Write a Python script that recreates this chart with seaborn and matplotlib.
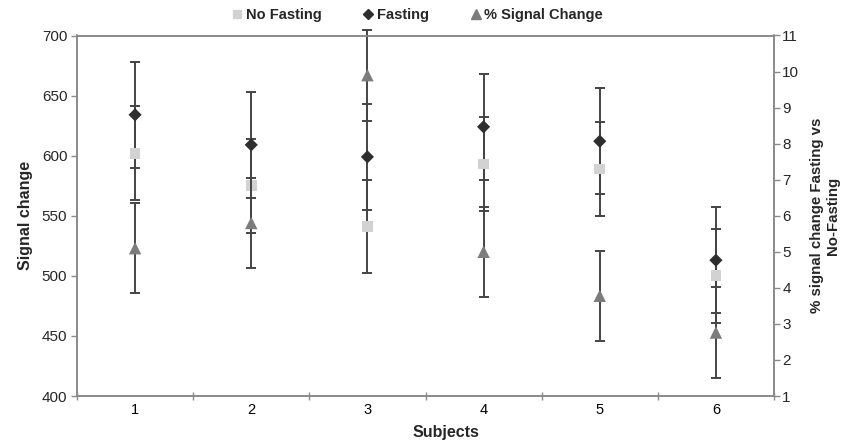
import matplotlib
matplotlib.use("Agg")
import matplotlib.pyplot as plt
import seaborn as sns
import numpy as np
import pandas as pd
from matplotlib.ticker import FixedLocator, NullFormatter
from matplotlib.lines import Line2D

subjects = [1, 2, 3, 4, 5, 6]
subject_labels = ["1", "2", "3", "4", "5", "6"]
no_fasting = [602, 575, 541, 593, 589, 500]
no_fasting_err = [39, 39, 39, 39, 39, 39]
fasting = [634, 609, 599, 624, 612, 513]
fasting_err = [44, 44, 44, 44, 44, 44]
pct_change = [5.1, 5.8, 9.9, 5.0, 3.78, 2.76]
pct_change_err = [1.25, 1.25, 1.26, 1.25, 1.25, 1.25]

sns.set_theme(style="white")
plt.rcParams['font.family'] = ['Liberation Sans', 'DejaVu Sans']

fig = plt.figure(figsize=(8.55, 4.41), dpi=100)
ax = fig.add_axes([77/855, 1-396/441, (774-77)/855, (396-35.5)/441])
ax2 = ax.twinx()

c_nf = "#d2d2d2"
c_f = "#2e2e2e"
c_p = "#7c7c7c"
c_err = "#444444"
c_spine = "#8a8a8a"

df = pd.DataFrame({"subject": subjects, "no_fasting": no_fasting, "fasting": fasting,
                   "pct": pct_change})

ax.errorbar(subjects, fasting, yerr=fasting_err, fmt="none", ecolor=c_err,
            elinewidth=1.4, capsize=3.5, capthick=1.4, zorder=2)
ax.errorbar(subjects, no_fasting, yerr=no_fasting_err, fmt="none", ecolor=c_err,
            elinewidth=1.4, capsize=3.5, capthick=1.4, zorder=2)
sns.scatterplot(data=df, x="subject", y="no_fasting", marker="s", s=60, color=c_nf,
                edgecolor="none", ax=ax, zorder=3, legend=False)
sns.scatterplot(data=df, x="subject", y="fasting", marker="D", s=45, color=c_f,
                edgecolor="none", ax=ax, zorder=4, legend=False)

eb = ax2.errorbar(subjects, pct_change, yerr=pct_change_err, fmt="none", ecolor=c_err,
                  elinewidth=1.4, capsize=3.5, capthick=1.4, zorder=2)
for art in list(eb.lines[1]) + list(eb.lines[2]):
    art.set_clip_on(False)
sns.scatterplot(data=df, x="subject", y="pct", marker="^", s=80, color=c_p,
                edgecolor="none", ax=ax2, zorder=3, legend=False)

ax.set_xlim(0.5, 6.5)
ax.set_ylim(400, 700)
ax2.set_ylim(1, 11)
ax.set_yticks([400, 450, 500, 550, 600, 650, 700])
ax2.set_yticks(list(range(1, 12)))

ax.xaxis.set_major_locator(FixedLocator([0.5, 1.5, 2.5, 3.5, 4.5, 5.5, 6.5]))
ax.xaxis.set_major_formatter(NullFormatter())
ax.xaxis.set_minor_locator(FixedLocator(subjects))
ax.set_xticklabels(subject_labels, minor=True)
ax.tick_params(axis="x", which="major", direction="inout", length=6, width=1, color=c_spine, bottom=True)
ax.tick_params(axis="x", which="minor", length=0, labelsize=10.5, pad=5, colors="black")
ax.tick_params(axis="y", direction="out", length=4, width=1, color=c_spine, left=True, labelsize=11, pad=3)
ax2.tick_params(axis="y", direction="out", length=4, width=1, color=c_spine, right=True, labelsize=11, pad=2)

for a in (ax, ax2):
    for sp in a.spines.values():
        sp.set_color(c_spine)
        sp.set_linewidth(1.2)
        sp.set_visible(True)
ax.grid(False)
ax2.grid(False)

ax.set_xlabel("Subjects", fontsize=11.5, fontweight="bold")
ax.xaxis.set_label_coords(0.53, -0.08)
ax.set_ylabel("Signal change", fontsize=11.5, fontweight="bold", labelpad=6)
ax2.set_ylabel("% signal change Fasting vs\nNo-Fasting", fontsize=10.8, fontweight="bold",
               labelpad=8, linespacing=1.1)

handles = [
    Line2D([], [], marker="s", color=c_nf, linestyle="none", markersize=6),
    Line2D([], [], marker="D", color=c_f, linestyle="none", markersize=5),
    Line2D([], [], marker="^", color=c_p, linestyle="none", markersize=7),
]
labels = ["No Fasting", "Fasting", "% Signal Change"]
fig.legend(handles, labels, loc="center", bbox_to_anchor=(0.487, 0.965), ncol=3,
           frameon=False, prop={"weight": "bold", "size": 10.5}, handletextpad=0.1,
           columnspacing=2.7, handlelength=1.0)

fig.savefig("out.png", dpi=100)
